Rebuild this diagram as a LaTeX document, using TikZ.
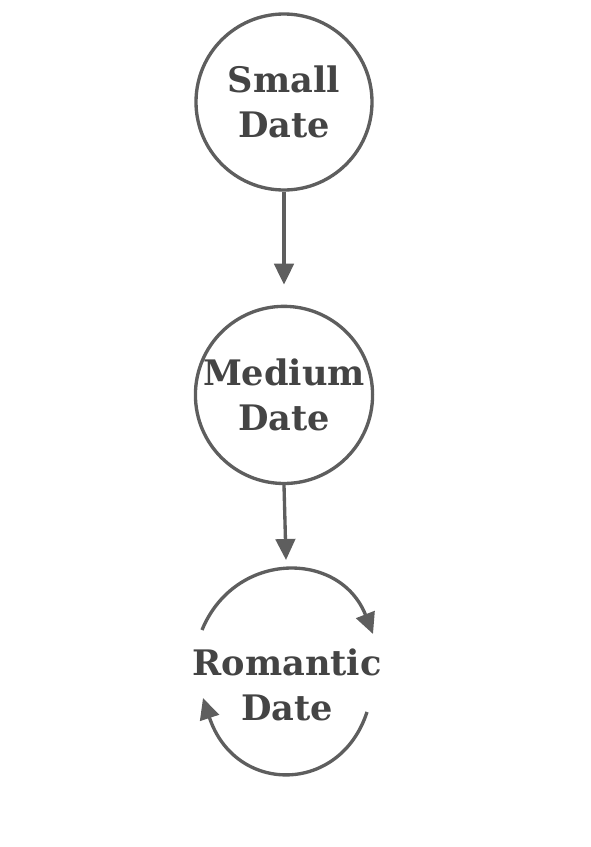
\documentclass[tikz,border=0pt]{standalone}
\usepackage{fontspec}
\setmainfont{DejaVu Serif}
\usetikzlibrary{arrows.meta,positioning}
\definecolor{edgegray}{HTML}{5E5E5E}
\definecolor{textgray}{HTML}{444444}
\tikzset{>={Triangle[length=4.2mm,width=3.9mm]}}

\begin{document}
\begin{tikzpicture}[
    datecircle/.style={draw=edgegray, circle, line width=1.9pt, minimum size=3.52cm, inner sep=0pt},
    every node/.style={font=\bfseries\fontsize{20}{26}\selectfont, text=textgray, align=center},
    flow/.style={->, draw=edgegray, line width=1.9pt},
    node distance=2.26cm
  ]
    \useasboundingbox (0,0) rectangle (11.8,-16.94);
    \node[datecircle] (small) at (5.68,-2.04) {Small\\Date};
    \node[datecircle, below=of small] (medium) {Medium\\Date};
    \node (romantic) at (5.74,-13.70) {Romantic\\Date};
    \coordinate (loopin) at ([shift={(-0.02,2.50)}]romantic.center);
    \draw[flow, shorten >=0.40cm] (small) -- (medium);
    \draw[flow] (medium.south) -- (loopin);
    % the two loop arcs round the last date
    \draw[flow] ([shift={(-1.70,1.10)}]romantic.center) .. controls ([shift={(-1.04,2.70)}]romantic.center) and ([shift={(1.06,2.70)}]romantic.center) .. ([shift={(1.72,1.02)}]romantic.center);
    \draw[flow] ([shift={(1.60,-0.54)}]romantic.center) .. controls ([shift={(1.06,-2.20)}]romantic.center) and ([shift={(-1.04,-2.20)}]romantic.center) .. ([shift={(-1.68,-0.26)}]romantic.center);
  \end{tikzpicture}
\end{document}
